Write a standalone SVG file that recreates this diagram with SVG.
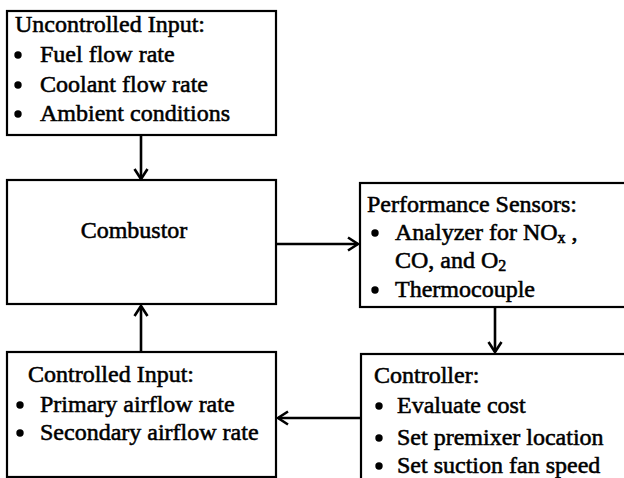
<svg xmlns="http://www.w3.org/2000/svg" width="624" height="478" viewBox="0 0 624 478">
<style>
.box{fill:#fff;stroke:#000;stroke-width:2.2}
text{font-family:'Liberation Serif','Times New Roman','DejaVu Serif',serif;font-size:24px;fill:#000;stroke:#000;stroke-width:0.55}
.c{stroke:#000;stroke-width:2.6;fill:none}
.b{fill:#000}
</style>
<defs>
<marker id="ah" markerUnits="userSpaceOnUse" markerWidth="18" markerHeight="18" viewBox="-13 -9 15 18" refX="0" refY="0" orient="auto">
<path d="M-10,-6.5 L0,0 L-10,6.5" fill="none" stroke="#000" stroke-width="2.6"/>
</marker>
</defs>
<rect width="624" height="478" fill="#fff"/>
<g id="connectors">
<line class="c" x1="141" y1="136" x2="141" y2="179" marker-end="url(#ah)"/>
<line class="c" x1="277" y1="244" x2="358" y2="244" marker-end="url(#ah)"/>
<line class="c" x1="495" y1="308" x2="495" y2="352" marker-end="url(#ah)"/>
<line class="c" x1="360" y1="418" x2="278" y2="418" marker-end="url(#ah)"/>
<line class="c" x1="141" y1="351" x2="141" y2="306" marker-end="url(#ah)"/>
</g>
<g id="uncontrolled">
<rect class="box" x="7" y="11" width="269" height="124"/>
<text x="15" y="32">Uncontrolled Input:</text>
<circle class="b" cx="18" cy="55" r="3.7"/><text x="40" y="62">Fuel flow rate</text>
<circle class="b" cx="18" cy="85" r="3.7"/><text x="40" y="92">Coolant flow rate</text>
<circle class="b" cx="18" cy="114" r="3.7"/><text x="40" y="121">Ambient conditions</text>
</g>
<g id="combustor">
<rect class="box" x="7" y="180" width="269" height="124"/>
<text x="134" y="238" text-anchor="middle">Combustor</text>
</g>
<g id="sensors">
<rect class="box" x="360" y="183" width="280" height="124"/>
<text x="367" y="212">Performance Sensors:</text>
<circle class="b" cx="375" cy="233" r="3.7"/><text x="395" y="240">Analyzer for NO<tspan font-size="16" dy="3">x</tspan><tspan dy="-3"> ,</tspan></text>
<text x="395" y="268">CO, and O<tspan font-size="16" dy="3">2</tspan></text>
<circle class="b" cx="375" cy="290" r="3.7"/><text x="395" y="297">Thermocouple</text>
</g>
<g id="controller">
<rect class="box" x="361" y="354" width="280" height="140"/>
<text x="374" y="383">Controller:</text>
<circle class="b" cx="379" cy="406" r="3.7"/><text x="397" y="413">Evaluate cost</text>
<circle class="b" cx="379" cy="438" r="3.7"/><text x="397" y="445">Set premixer location</text>
<circle class="b" cx="379" cy="466" r="3.7"/><text x="397" y="473">Set suction fan speed</text>
</g>
<g id="controlled">
<rect class="box" x="7" y="352" width="269" height="125"/>
<text x="28" y="382">Controlled Input:</text>
<circle class="b" cx="20" cy="405" r="3.7"/><text x="40" y="412">Primary airflow rate</text>
<circle class="b" cx="20" cy="433" r="3.7"/><text x="40" y="440">Secondary airflow rate</text>
</g>
</svg>
